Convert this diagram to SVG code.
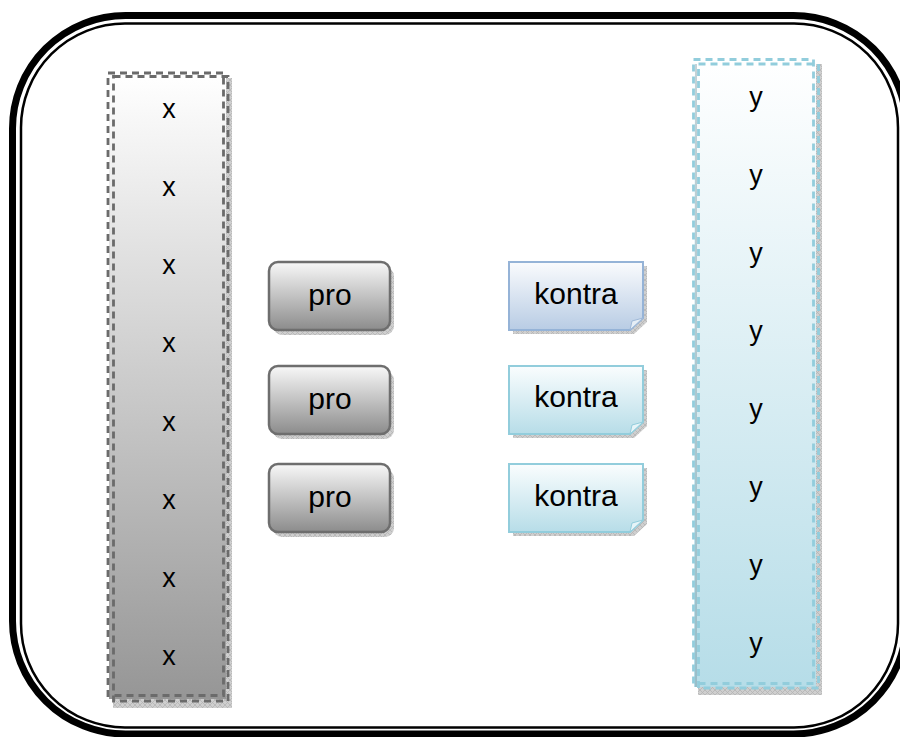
<svg xmlns="http://www.w3.org/2000/svg" width="900" height="737" viewBox="0 0 900 737">
<style>
.lbl{font-family:"Liberation Sans",Arial,sans-serif;fill:#000;text-anchor:middle}
.big{font-size:30px}
.sm{font-size:27px}
.frameThick{fill:none;stroke:#000;stroke-width:7}
.frameThin{fill:none;stroke:#000;stroke-width:2.5}
.dashG{fill:none;stroke:#6b6b6b;stroke-width:2.8;stroke-dasharray:7 5}
.dashB{fill:none;stroke:#92cddc;stroke-width:2.8;stroke-dasharray:7 5}
.shadow{fill:url(#hatch)}
.pro{fill:url(#gPro);stroke:#6e6e6e;stroke-width:2.5}
.kon1{fill:url(#gKon1);stroke:#95b3d7;stroke-width:2}
.kon2{fill:url(#gKon2);stroke:#92cddc;stroke-width:2}
.fold{fill:#e6eef6;stroke:#9fb9d8;stroke-width:1}
</style>
<defs>
<pattern id="hatch" width="5" height="5" patternUnits="userSpaceOnUse">
<rect width="5" height="5" fill="#cfcfcf"/>
<path d="M0 0L5 5M5 0L0 5" stroke="#b5b5b5" stroke-width="0.8"/>
</pattern>
<linearGradient id="gX" x1="0" y1="0" x2="0" y2="1">
<stop offset="0" stop-color="#ffffff"/>
<stop offset="1" stop-color="#969696"/>
</linearGradient>
<linearGradient id="gY" x1="0" y1="0" x2="0" y2="1">
<stop offset="0" stop-color="#ffffff"/>
<stop offset="1" stop-color="#b6dde8"/>
</linearGradient>
<linearGradient id="gPro" x1="0" y1="0" x2="0" y2="1">
<stop offset="0" stop-color="#f8f8f8"/>
<stop offset="1" stop-color="#8c8c8c"/>
</linearGradient>
<linearGradient id="gKon1" x1="0" y1="0" x2="0" y2="1">
<stop offset="0" stop-color="#fafbfd"/>
<stop offset="1" stop-color="#b8cce4"/>
</linearGradient>
<linearGradient id="gKon2" x1="0" y1="0" x2="0" y2="1">
<stop offset="0" stop-color="#fafdfe"/>
<stop offset="1" stop-color="#b7dde8"/>
</linearGradient>
</defs>
<rect width="900" height="737" fill="#ffffff"/>

<g id="frame">
<rect class="frameThick" x="12.5" y="15.5" width="894" height="718.5" rx="113" ry="113"/>
<rect class="frameThin" x="21" y="23.5" width="877" height="704" rx="104" ry="104"/>
</g>

<g id="columnX">
<rect class="shadow" x="113" y="78" width="119" height="630"/>
<rect x="109" y="74" width="117" height="625" fill="url(#gX)"/>
<rect class="dashG" x="108" y="73" width="115.5" height="622.5"/>
<rect class="dashG" x="113.5" y="76.5" width="114.5" height="624.5"/>
<text class="lbl sm" x="169" y="118">x</text>
<text class="lbl sm" x="169" y="196">x</text>
<text class="lbl sm" x="169" y="274">x</text>
<text class="lbl sm" x="169" y="352">x</text>
<text class="lbl sm" x="169" y="431">x</text>
<text class="lbl sm" x="169" y="509">x</text>
<text class="lbl sm" x="169" y="587">x</text>
<text class="lbl sm" x="169" y="665">x</text>
</g>

<g id="columnY">
<rect class="shadow" x="698" y="64" width="124" height="631"/>
<rect x="694" y="60" width="122" height="627" fill="url(#gY)"/>
<line x1="696" y1="64" x2="696" y2="687" stroke="#6f8f99" stroke-width="0.8"/>
<rect class="dashB" x="693.5" y="59.5" width="120" height="624"/>
<rect class="dashB" x="698.5" y="64" width="120" height="624"/>
<text class="lbl sm" x="756" y="106">y</text>
<text class="lbl sm" x="756" y="184">y</text>
<text class="lbl sm" x="756" y="262">y</text>
<text class="lbl sm" x="756" y="340">y</text>
<text class="lbl sm" x="756" y="418">y</text>
<text class="lbl sm" x="756" y="496">y</text>
<text class="lbl sm" x="756" y="574">y</text>
<text class="lbl sm" x="756" y="652">y</text>
</g>

<g id="pro1">
<rect class="shadow" x="273" y="267" width="121" height="68" rx="9"/>
<rect class="pro" x="269" y="262" width="121" height="68" rx="9"/>
<text class="lbl big" x="330" y="305">pro</text>
</g>
<g id="pro2">
<rect class="shadow" x="273" y="371" width="121" height="68" rx="9"/>
<rect class="pro" x="269" y="366" width="121" height="68" rx="9"/>
<text class="lbl big" x="330" y="409">pro</text>
</g>
<g id="pro3">
<rect class="shadow" x="273" y="469" width="121" height="68" rx="9"/>
<rect class="pro" x="269" y="464" width="121" height="68" rx="9"/>
<text class="lbl big" x="330" y="507">pro</text>
</g>

<g id="kontra1">
<path class="shadow" d="M513 266H647V322L634 334H513Z"/>
<path class="kon1" d="M509 262H643V318L630 330H509Z"/>
<path class="fold" d="M630 330L632 321L643 318Z"/>
<text class="lbl big" x="576" y="304">kontra</text>
</g>
<g id="kontra2">
<path class="shadow" d="M513 370H647V426L634 438H513Z"/>
<path class="kon2" d="M509 366H643V422L630 434H509Z"/>
<path class="fold" d="M630 434L632 425L643 422Z" style="fill:#e6f4f8;stroke:#92cddc"/>
<text class="lbl big" x="576" y="407">kontra</text>
</g>
<g id="kontra3">
<path class="shadow" d="M513 468H647V524L634 536H513Z"/>
<path class="kon2" d="M509 464H643V520L630 532H509Z"/>
<path class="fold" d="M630 532L632 523L643 520Z" style="fill:#e6f4f8;stroke:#92cddc"/>
<text class="lbl big" x="576" y="506">kontra</text>
</g>

<g id="connectors"></g>
</svg>
